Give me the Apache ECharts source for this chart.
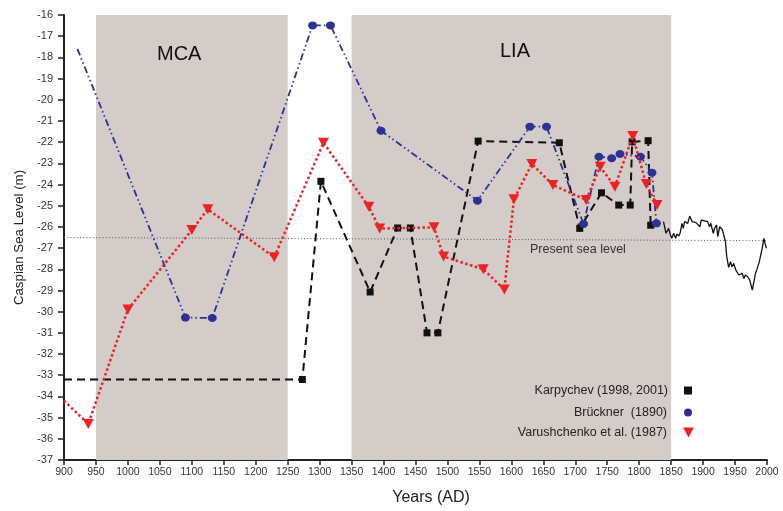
<!DOCTYPE html>
<html>
<head>
<meta charset="utf-8">
<script src="https://cdn.jsdelivr.net/npm/echarts@6/dist/echarts.min.js"></script>
<style>html,body{margin:0;padding:0;background:#fff}#c{width:783px;height:511px}</style>
</head>
<body>
<div id="c"></div>
<script>
// ---- Data ----
const karpYears  = [900, 1273, 1302, 1379, 1422, 1442, 1468, 1485, 1548, 1675, 1707, 1741, 1768, 1786, 1789, 1814, 1818];
const karpLevels = [-33.2, -33.2, -23.85, -29.07, -26.05, -26.05, -31.0, -31.0, -21.95, -22.03, -26.07, -24.39, -24.97, -24.97, -21.99, -21.93, -25.92];

const brucYears  = [921, 1090, 1132, 1289, 1317, 1396, 1547, 1629, 1655, 1713, 1737, 1757, 1770, 1802, 1820, 1827];
const brucLevels = [-17.6, -30.28, -30.3, -16.49, -16.49, -21.46, -24.76, -21.27, -21.27, -25.86, -22.69, -22.76, -22.56, -22.69, -23.44, -25.83];

const varuYears  = [900, 938, 1000, 1100, 1125, 1229, 1306, 1377, 1394, 1479, 1494, 1556, 1589, 1604, 1632, 1665, 1717, 1739, 1762, 1790, 1811, 1828];
const varuLevels = [-34.2, -35.3, -29.9, -26.15, -25.17, -27.43, -22.03, -25.05, -26.08, -26.02, -27.4, -28.0, -28.95, -24.7, -23.03, -24.02, -24.73, -23.16, -24.1, -21.71, -23.98, -24.97];

const instYears  = [1838, 1842, 1846, 1849, 1851, 1854, 1857, 1859, 1862, 1864, 1867, 1869, 1871, 1874, 1876, 1879, 1881, 1883, 1886, 1889, 1892, 1895, 1897, 1900, 1902, 1905, 1907, 1910, 1912, 1916, 1918, 1921, 1923, 1926, 1928, 1930, 1932, 1935, 1937, 1940, 1943, 1945, 1948, 1951, 1953, 1956, 1958, 1961, 1964, 1966, 1970, 1973, 1977, 1979, 1982, 1984, 1988, 1991, 1993, 1995, 1997, 1999];
const instLevels = [-25.75, -26.3, -26.07, -26.38, -26.54, -26.3, -26.54, -26.33, -26.43, -26.3, -25.83, -26.07, -25.75, -25.68, -25.83, -25.49, -25.44, -25.75, -25.83, -25.8, -25.86, -25.99, -25.68, -25.75, -25.71, -25.8, -25.75, -25.99, -25.83, -26.3, -26.07, -25.91, -26.46, -25.99, -25.91, -26.12, -26.07, -26.7, -27.4, -27.91, -27.64, -27.88, -27.72, -28.03, -28.11, -28.27, -28.35, -28.19, -28.43, -28.27, -28.35, -28.51, -28.98, -28.66, -28.19, -28.03, -27.64, -27.56, -26.93, -26.54, -26.78, -27.01];

const presentYears  = [900, 2000];
const presentLevels = [-26.5, -26.65];

const periods = [ {name: 'MCA', from: 950, to: 1250}, {name: 'LIA', from: 1350, to: 1850} ];

const names = ['Karpychev (1998, 2001)', 'Brückner  (1890)', 'Varushchenko et al. (1987)'];

// ---- Build ----
const FONT = "'Liberation Sans', Arial, sans-serif";
function pairs(xs, ys, hideFirst) {
  return xs.map((x, i) => (hideFirst && i === 0) ? {value: [x, ys[i]], symbol: 'none'} : [x, ys[i]]);
}
const BLUE = '#2e3192', RED = '#ec2227', BLACK = '#111111';
const triPath = 'path://M0,0L10,0L5,9Z';

const chart = echarts.init(document.getElementById('c'));
chart.setOption({
  backgroundColor: '#ffffff',
  animation: false,
  textStyle: {fontFamily: FONT},
  grid: {left: 64, right: 16, top: 15, bottom: 51, containLabel: false},
  xAxis: {
    type: 'value', min: 900, max: 2000, interval: 50,
    name: 'Years (AD)', nameLocation: 'middle', nameGap: 30,
    nameTextStyle: {fontSize: 16, color: '#222', padding: [0, 0, 0, 31], fontFamily: FONT},
    axisLine: {show: true, lineStyle: {color: '#222', width: 2}},
    axisTick: {show: true, length: 5, lineStyle: {color: '#222', width: 1.5}},
    axisLabel: {fontSize: 10.5, color: '#333', margin: 7, fontFamily: FONT, formatter: v => String(v)},
    splitLine: {show: false}
  },
  yAxis: {
    type: 'value', min: -37, max: -16, interval: 1,
    name: 'Caspian Sea Level (m)', nameLocation: 'middle', nameGap: 37, nameRotate: 90,
    nameTextStyle: {fontSize: 13.3, color: '#222', fontFamily: FONT},
    axisLine: {show: true, lineStyle: {color: '#222', width: 2}},
    axisTick: {show: true, length: 6, lineStyle: {color: '#222', width: 1.5}},
    axisLabel: {fontSize: 11, color: '#333', margin: 11, fontFamily: FONT},
    splitLine: {show: false}
  },
  legend: names.map((n, i) => ({
    data: [{name: n, icon: i === 0 ? 'rect' : (i === 1 ? 'circle' : triPath)}],
    align: 'right', orient: 'vertical',
    right: i === 2 ? 84 : 86, top: [379, 401, 421][i],
    itemWidth: [8, 10, 11][i], itemHeight: [8, 8, 10][i],
    textStyle: {fontSize: 12.5, color: '#222', fontFamily: FONT, padding: [0, 11, 0, 0]},
    selectedMode: false
  })),
  series: [
    {
      type: 'line', name: 'periods', data: [], z: 0, silent: true,
      markArea: {
        silent: true,
        itemStyle: {color: '#d3ccc8', opacity: 1},
        label: {show: false},
        data: periods.map(p => [{xAxis: p.from, yAxis: -37}, {xAxis: p.to, yAxis: -16}])
      }
    },
    {
      type: 'line', name: 'Present sea level', data: pairs(presentYears, presentLevels), z: 2,
      showSymbol: false, symbol: 'none', silent: true,
      lineStyle: {color: '#555', width: 1, type: [1, 2.2]}
    },
    {
      type: 'line', name: 'instrumental', data: pairs(instYears, instLevels), z: 3,
      showSymbol: false, symbol: 'none', silent: true,
      lineStyle: {color: '#111', width: 1.3}
    },
    {
      type: 'line', name: names[0], data: pairs(karpYears, karpLevels, true), z: 4,
      symbol: 'rect', symbolSize: 7, itemStyle: {color: BLACK},
      lineStyle: {color: BLACK, width: 2, type: [8, 5]}
    },
    {
      type: 'line', name: names[1], data: pairs(brucYears, brucLevels, true), z: 5,
      symbol: 'circle', symbolSize: [9, 8], itemStyle: {color: BLUE},
      lineStyle: {color: BLUE, width: 1.8, type: [7, 3, 1.5, 3, 1.5, 3]}
    },
    {
      type: 'line', name: names[2], data: pairs(varuYears, varuLevels, true), z: 6,
      symbol: 'triangle', symbolRotate: 180, symbolSize: [11, 10], itemStyle: {color: RED},
      lineStyle: {color: RED, width: 2.5, type: [2.5, 2.5]}
    }
  ],
  graphic: {
    elements: [
      {type: 'text', left: 157, top: 44, z: 100, style: {text: 'MCA', fontSize: 20, fontFamily: FONT, fill: '#111'}},
      {type: 'text', left: 500, top: 41, z: 100, style: {text: 'LIA', fontSize: 20, fontFamily: FONT, fill: '#111'}},
      {type: 'text', left: 530, top: 243, z: 100, style: {text: 'Present sea level', fontSize: 12.5, fontFamily: FONT, fill: '#333'}}
    ]
  }
});
</script>
</body>
</html>
